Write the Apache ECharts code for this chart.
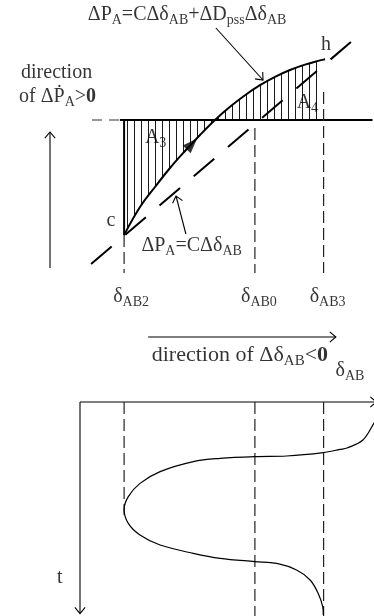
<!DOCTYPE html>
<html>
<head>
<meta charset="utf-8">
<script src="https://cdn.jsdelivr.net/npm/echarts@6/dist/echarts.min.js"></script>
<style>
  html, body { margin: 0; padding: 0; background: #fff; }
  #chart { width: 374px; height: 616px; }
</style>
</head>
<body>
<div id="chart"></div>
<script>
// Reference angles on the δAB axis
const deltaAB2 = 14.7;
const deltaAB0 = 58.3;
const deltaAB3 = 81.2;

// Trajectory c → h in the (δAB, ΔPA) plane
const trajDelta = [14.7, 20, 25, 30, 35, 40, 45, 50, 55, 60, 65, 70, 75, 80, 81.7];
const trajPower = [-57.5, -43.5, -33.5, -24, -15.5, -7.5, 0, 6.6, 12.4, 17.4, 21.6, 25, 27.7, 29.8, 30.4];

// Linear characteristic ΔPA = CΔδAB
const linDelta = [3.7, 90.3];
const linPower = [-72, 39];

// δAB swing against time
const swingTime  = [5, 10.5, 19, 23, 23.7, 25.3, 27, 27.3, 28.2, 29.8, 34.8, 40.7, 47.3, 53.7, 60.7, 66.5, 71.5, 75.7, 78.2, 79.8, 80.7, 84, 89, 95.7, 102.3, 106.5];
const swingDelta = [100, 98, 94.3, 89, 86.7, 81.1, 68.9, 58.3, 46.7, 37.8, 26.7, 20, 16.1, 14.7, 16.1, 20, 26.7, 37.8, 46.7, 58.3, 65.6, 72.2, 76.7, 79.4, 80.9, 81.1];

// Last angle covered by the hatching of A3 / A4
const hatchEnd = 80;

// Direction marker on the trajectory
const flowMark = [37.3, -12];

const SERIF = '"Liberation Serif", "Times New Roman", serif';
const TOP = { xAxisIndex: 0, yAxisIndex: 0 };
const BOT = { xAxisIndex: 1, yAxisIndex: 1 };

const zip = (xs, ys) => xs.map((x, i) => [x, ys[i]]);
const trajectory = zip(trajDelta, trajPower);
const hatchPts = trajectory.filter(p => p[0] <= hatchEnd);
const cPoint = trajectory[0];
const swing = zip(swingDelta, swingTime);

// vertical hatch texture
const hatch = document.createElement('canvas');
hatch.width = 7; hatch.height = 8;
const hg = hatch.getContext('2d');
hg.fillStyle = '#1a1a1a';
hg.fillRect(1, 0, 1, 8);

function seg(pts, style, axis, extra) {
  return Object.assign({
    type: 'line', data: pts, symbol: 'none', silent: true, animation: false,
    lineStyle: Object.assign({ color: '#000', width: 1 }, style)
  }, axis, extra || {});
}

const guideDash = { color: '#222', width: 1.2, type: [12, 5] };

// dashed guides (angle, from, to)
const topGuides = [
  [deltaAB2, cPoint[1], -76.5],
  [deltaAB0, -4, -76.5],
  [deltaAB3, 14, -76.5]
];
const botGuides = [
  [deltaAB2, 0, 56.5],
  [deltaAB0, 0, 107],
  [deltaAB3, 0, 107]
];

// open arrows: [x1, y1, x2, y2]
const topArrows = [
  [45.3, 46, 61, 20],
  [35.3, -57, 32, -38],
  [-10, -74, -10, -6],
  [22.7, -108.5, 85.3, -108.5]
];
const botArrows = [
  [0, 0, 98.8, 0],
  [0, 0, 0, 105.8]
];

function arrowSeries(data, axis) {
  return Object.assign({
    type: 'custom', silent: true, animation: false,
    encode: { x: [0, 2], y: [1, 3] },
    data: data,
    renderItem: function (params, api) {
      const p1 = api.coord([api.value(0), api.value(1)]);
      const p2 = api.coord([api.value(2), api.value(3)]);
      const ang = Math.atan2(p2[1] - p1[1], p2[0] - p1[0]);
      const L = 8, a = Math.PI / 4.5;
      const h1 = [p2[0] - L * Math.cos(ang - a), p2[1] - L * Math.sin(ang - a)];
      const h2 = [p2[0] - L * Math.cos(ang + a), p2[1] - L * Math.sin(ang + a)];
      return {
        type: 'group',
        children: [
          { type: 'line', shape: { x1: p1[0], y1: p1[1], x2: p2[0], y2: p2[1] }, style: { stroke: '#000', lineWidth: 1.1 } },
          { type: 'polyline', shape: { points: [h1, p2, h2] }, style: { stroke: '#000', fill: null, lineWidth: 1.1 } }
        ]
      };
    }
  }, axis);
}

const rich = {
  m:  { fontSize: 20, lineHeight: 24, fontFamily: SERIF, color: '#000' },
  mb: { fontSize: 20, lineHeight: 24, fontFamily: SERIF, color: '#000', fontWeight: 'bold' },
  s:  { fontSize: 14, lineHeight: 14, fontFamily: SERIF, color: '#000', verticalAlign: 'bottom' },
  M:  { fontSize: 22, lineHeight: 26, fontFamily: SERIF, color: '#000' },
  Mb: { fontSize: 22, lineHeight: 26, fontFamily: SERIF, color: '#000', fontWeight: 'bold' },
  S:  { fontSize: 15, lineHeight: 15, fontFamily: SERIF, color: '#000', verticalAlign: 'bottom' }
};

function labelSeries(items, axis) {
  return Object.assign({
    type: 'scatter', silent: true, animation: false,
    symbolSize: 1, itemStyle: { color: 'transparent' },
    data: items.map(it => ({ value: it.at, text: it.text, label: it.offset ? { offset: it.offset } : undefined })),
    label: {
      show: true, position: 'inside',
      formatter: p => p.data.text,
      rich: rich
    },
    z: 10
  }, axis);
}

const topLabels = [
  { at: [35.7, 52.5], text: '{m|ΔP}{s|A}{m|=CΔδ}{s|AB}{m|+ΔD}{s|pss}{m|Δδ}{s|AB}' },
  { at: [82, 37.5], text: '{m|h}' },
  { at: [25.2, -9], text: '{m|A}{s|3}' },
  { at: [75.8, 8.5], text: '{m|A}{s|4}' },
  { at: [10.3, -50.5], text: '{m|c}' },
  { at: [37.2, -63], text: '{m|ΔP}{s|A}{m|=CΔδ}{s|AB}' },
  { at: [deltaAB2, -88.5], text: '{m|δ}{s|AB2}', offset: [7, 0] },
  { at: [deltaAB0, -88.5], text: '{m|δ}{s|AB0}', offset: [4, 0] },
  { at: [deltaAB3, -88.5], text: '{m|δ}{s|AB3}', offset: [4, 0] },
  { at: [-7.8, 23.5], text: '{m|direction}' },
  { at: [-7.5, 11.5], text: '{m|of ΔṖ}{s|A}{m|>}{mb|0}' },
  { at: [53.3, -117.6], text: '{M|direction of Δδ}{S|AB}{M|<}{Mb|0}' },
  { at: [90, -125.5], text: '{m|δ}{s|AB}' }
];
const botLabels = [
  { at: [-6.7, 88], text: '{m|t}' }
];

const series = [
  // hatched areas A3 and A4
  seg(hatchPts, { width: 0, opacity: 0 }, TOP, {
    smooth: 0.4,
    areaStyle: { color: { image: hatch, repeat: 'repeat' }, opacity: 1, origin: 'auto' }
  }),
  // ΔPA = 0 line
  seg([[4, 0], [13.3, 0]], { width: 1.2, color: '#333', type: [10, 7] }, TOP),
  seg([[13.3, 0], [97.5, 0]], { width: 2 }, TOP),
  // vertical edge of A3 at δAB2
  seg([[deltaAB2, 0], cPoint], { width: 2 }, TOP),
  // dashed guides above
  ...topGuides.map(g => seg([[g[0], g[1]], [g[0], g[2]]], guideDash, TOP)),
  // linear characteristic
  seg(zip(linDelta, linPower), { width: 2, type: [27, 18] }, TOP),
  // trajectory
  seg(trajectory, { width: 2 }, TOP, { smooth: 0.4 }),
  {
    type: 'scatter', silent: true, animation: false, ...TOP,
    data: [flowMark], symbol: 'triangle', symbolSize: [11, 15], symbolRotate: -44,
    itemStyle: { color: '#000' }, z: 5
  },
  arrowSeries(topArrows, TOP),
  labelSeries(topLabels, TOP),

  // time plot
  ...botGuides.map(g => seg([[g[0], g[1]], [g[0], g[2]]], guideDash, BOT)),
  seg(swing, { width: 1.2 }, BOT, { smooth: 0.35 }),
  arrowSeries(botArrows, BOT),
  labelSeries(botLabels, BOT)
];

const chart = echarts.init(document.getElementById('chart'), null, { renderer: 'canvas' });
chart.setOption({
  animation: false,
  backgroundColor: '#fff',
  grid: [
    { left: 20, right: 0, top: 0, height: 380, outerBoundsMode: 'none' },
    { left: 20, right: 0, top: 402, height: 214, outerBoundsMode: 'none' }
  ],
  xAxis: [
    { type: 'value', gridIndex: 0, min: -20, max: 98, show: false },
    { type: 'value', gridIndex: 1, min: -20, max: 98, show: false }
  ],
  yAxis: [
    { type: 'value', gridIndex: 0, min: -130, max: 60, show: false },
    { type: 'value', gridIndex: 1, min: 0, max: 107, inverse: true, show: false }
  ],
  series: series
});
</script>
</body>
</html>
